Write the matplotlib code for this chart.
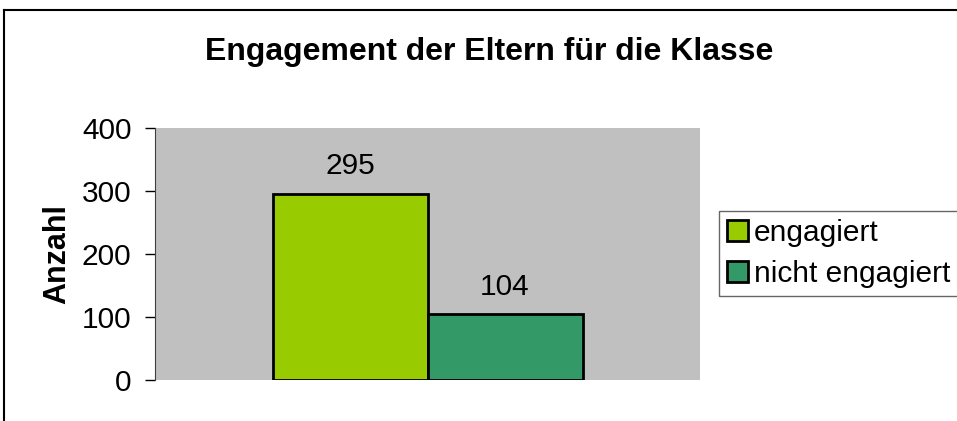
import matplotlib.pyplot as plt

plt.rcParams['font.family'] = ['Liberation Sans', 'DejaVu Sans']

title = 'Engagement der Eltern für die Klasse'
series = ['engagiert', 'nicht engagiert']
values = [295, 104]
colors = ['#99CC00', '#339966']
yticks = [0, 100, 200, 300, 400]

fig = plt.figure(figsize=(9.57, 4.21), dpi=100)
ax = fig.add_axes([155 / 957, 1 - 380 / 421, 545 / 957, 252 / 421])
ax.set_facecolor('#C0C0C0')

w = 155 / 545
offsets = [-w / 2, w / 2]
for off, v, c, name in zip(offsets, values, colors, series):
    ax.bar(off, v, width=w, color=c, edgecolor='black', linewidth=2, label=name)
    ax.text(off, v + 22, str(v), ha='center', va='bottom', fontsize=21.5)

ax.set_xlim(-0.5, 0.5)
ax.set_ylim(0, 400)
ax.set_yticks(yticks)
ax.set_xticks([])
ax.tick_params(axis='y', labelsize=21.5, length=7, width=1, pad=10)
for s in ['top', 'right', 'bottom']:
    ax.spines[s].set_visible(False)
ax.spines['left'].set_color('#404040')
ax.set_ylabel('Anzahl', fontsize=22, fontweight='bold', labelpad=7)

fig.text(489 / 957, 1 - 52 / 421, title, ha='center', va='center',
         fontsize=23, fontweight='bold')

leg = fig.legend(loc='upper left', bbox_to_anchor=(719 / 957, 1 - 211 / 421),
                 fontsize=21.5, frameon=True, fancybox=False, handlelength=0.7,
                 handleheight=0.7, handletextpad=0.2, borderpad=0.28,
                 labelspacing=0.42, borderaxespad=0)
leg.get_frame().set_edgecolor('#404040')
leg.get_frame().set_linewidth(1)

# outer chart border (only top and left visible in the crop)
fig.add_artist(plt.Line2D([4 / 957, 4 / 957], [0, 1 - 10 / 421], color='black', lw=1.5))
fig.add_artist(plt.Line2D([4 / 957, 1], [1 - 10 / 421, 1 - 10 / 421], color='black', lw=1.5))

fig.savefig('out.png', dpi=100)
